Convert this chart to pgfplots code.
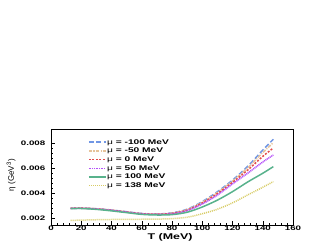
\documentclass[border=0pt]{standalone}
\usepackage{fontspec}
\setmainfont{Liberation Sans}[FakeStretch=1.5]
\newfontfamily\ylabfont{Liberation Sans}
\usepackage{pgfplots}
\pgfplotsset{compat=1.18}
\definecolor{cA}{HTML}{7096E4}
\definecolor{cB}{HTML}{E6C49C}
\definecolor{cC}{HTML}{E24C4C}
\definecolor{cD}{HTML}{B450F8}
\definecolor{cE}{HTML}{58B28C}
\definecolor{cF}{HTML}{D8CC66}
\begin{document}
\begin{tikzpicture}
\useasboundingbox (0,0) rectangle (327pt,245pt);
\begin{axis}[
 at={(51pt,20pt)}, anchor=south west, scale only axis, width=242pt, height=95.7pt,
 xmin=0, xmax=160, ymin=0.00146, ymax=0.00912,
 xtick={0,20,40,60,80,100,120,140,160}, xticklabels={0,20,40,60,80,100,120,140,160},
 ytick={0.002,0.004,0.006,0.008}, yticklabels={0.002,0.004,0.006,0.008},
 scaled y ticks=false,
 minor x tick num=4, minor y tick num=4,
 tick align=inside, xtick pos=left, ytick pos=left,
 major tick length=4pt, minor tick length=2pt,
 tick style={black, line width=0.5pt},
 axis line style={line width=0.6pt},
 /pgf/number format/assume math mode=true,
 ticklabel style={font=\bfseries\fontsize{6.5}{7}\selectfont},
 xticklabel style={inner sep=0pt, yshift=-0.5pt},
 yticklabel style={inner sep=0pt, xshift=-5.5pt},
 xlabel={T (MeV)},
 xlabel style={font=\bfseries\fontsize{8.3}{9}\selectfont, at={(axis description cs:0.492,-0.13)}, anchor=center},
 ylabel={η (GeV\textsuperscript{3})},
 ylabel style={font=\ylabfont\fontsize{8}{9}\selectfont, at={(axis description cs:-0.165,0.52)}, anchor=center},
 legend style={draw=none, fill=none, inner sep=0pt, outer sep=0pt,
   at={(axis description cs:0.153,0.904)}, anchor=north west,
   font=\bfseries\fontsize{6.8}{7}\selectfont,
   nodes={inner sep=0.6pt, text height=5pt, text depth=1.3pt},
   row sep=1.2pt},
 legend cell align=left,
 legend image code/.code={\draw[#1] (0pt,0pt) -- (17pt,0pt);},
 every axis plot/.append style={line width=1.5pt, smooth},
]
\addplot[cA, dash pattern=on 5pt off 2.5pt] coordinates {
(13,0.00280)(20,0.00282)(30,0.00276)(40,0.00266)(50,0.00252)(60,0.00238)(70,0.00234)(80,0.00243)(90,0.00272)(100,0.00333)(110,0.00412)(120,0.00505)(130,0.00615)(140,0.00745)(147,0.00832)};
\addlegendentry{\textmd{μ} = -100 MeV}
\addplot[cB, dash pattern=on 3.5pt off 1.2pt on 1.2pt off 1.2pt] coordinates {
(13,0.00280)(20,0.00282)(30,0.00276)(40,0.00265)(50,0.00251)(60,0.00237)(70,0.00233)(80,0.00241)(90,0.00268)(100,0.00328)(110,0.00405)(120,0.00497)(130,0.00603)(140,0.00725)(147,0.00805)};
\addlegendentry{\textmd{μ} = -50 MeV}
\addplot[cC, dash pattern=on 2pt off 1.5pt] coordinates {
(13,0.00279)(20,0.00281)(30,0.00275)(40,0.00264)(50,0.00250)(60,0.00236)(70,0.00232)(80,0.00239)(90,0.00265)(100,0.00322)(110,0.00397)(120,0.00487)(130,0.00585)(140,0.00695)(147,0.00762)};
\addlegendentry{\textmd{μ} = 0 MeV}
\addplot[cD, dash pattern=on 1pt off 0.7pt] coordinates {
(13,0.00278)(20,0.00280)(30,0.00274)(40,0.00263)(50,0.00249)(60,0.00235)(70,0.00230)(80,0.00236)(90,0.00260)(100,0.00314)(110,0.00385)(120,0.00475)(130,0.00560)(140,0.00650)(147,0.00706)};
\addlegendentry{\textmd{μ} = 50 MeV}
\addplot[cE] coordinates {
(13,0.00277)(20,0.00278)(30,0.00271)(40,0.00259)(50,0.00245)(60,0.00231)(70,0.00226)(80,0.00229)(90,0.00248)(100,0.00290)(110,0.00345)(120,0.00413)(130,0.00490)(140,0.00560)(147,0.00613)};
\addlegendentry{\textmd{μ} = 100 MeV}
\addplot[cF, dash pattern=on 1pt off 1pt] coordinates {
(13,0.00183)(20,0.00185)(30,0.00188)(40,0.00190)(50,0.00191)(60,0.00192)(70,0.00193)(80,0.00197)(90,0.00208)(100,0.00236)(110,0.00272)(120,0.00323)(130,0.00386)(140,0.00448)(147,0.00493)};
\addlegendentry{\textmd{μ} = 138 MeV}
\end{axis}
\end{tikzpicture}
\end{document}
